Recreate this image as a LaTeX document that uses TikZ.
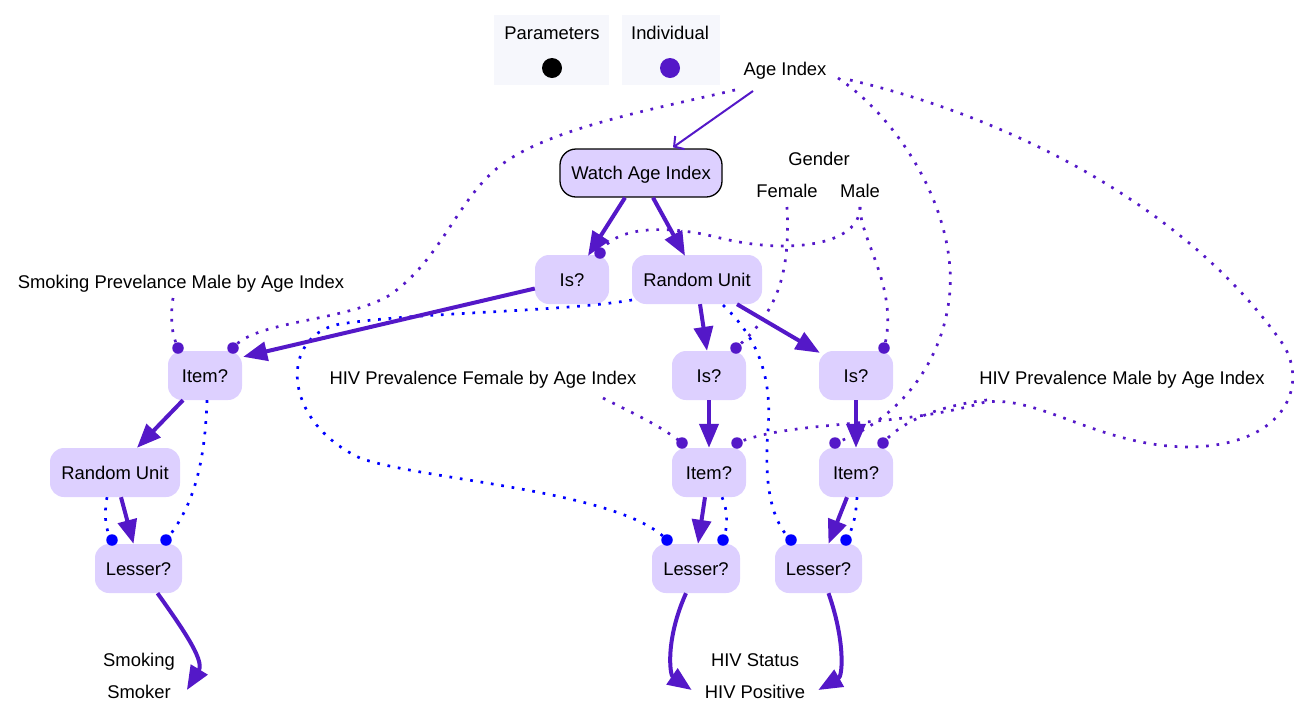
\documentclass[tikz,border=0pt]{standalone}
\usepackage{fontspec}
\setmainfont{Liberation Sans}
\usetikzlibrary{arrows.meta}
\definecolor{pur}{RGB}{84,24,200}
\definecolor{blu}{RGB}{0,0,255}
\definecolor{nodefill}{RGB}{221,208,255}
\definecolor{legfill}{RGB}{246,247,252}
\tikzset{
  lbl/.style={inner sep=0pt, text height=13.2pt, text depth=0pt, font=\fontsize{18.4}{22}\selectfont},
  box/.style={lbl, rounded corners=14pt, fill=nodefill, minimum height=49pt},
  legbox/.style={fill=legfill, inner sep=0pt, minimum height=70pt},
  arr/.style={draw=pur, line width=4pt, -{Triangle[length=24pt,width=19pt]}},
  thinarr/.style={draw=pur, line width=2pt, -{Straight Barb[length=7pt,width=16pt]}},
  pdots/.style={draw=pur, line width=2.7pt, dash pattern=on 2.7pt off 7.8pt},
  bdots/.style={draw=blu, line width=2.7pt, dash pattern=on 2.7pt off 7.8pt},
  pport/.style={circle, fill=pur, inner sep=0pt, minimum size=11.5pt},
  bport/.style={circle, fill=blu, inner sep=0pt, minimum size=11.5pt},
}
\begin{document}
\begin{tikzpicture}[x=1pt,y=-1pt]
\useasboundingbox (0,0) rectangle (1304,716);
% legend
\node[legbox, minimum width=115pt] (legP) at (551.5,50) {};
\node[legbox, minimum width=98pt] (legI) at (671,50) {};
\node[lbl] (legPt) at (552,33) {Parameters};
\node[lbl] (legIt) at (670,33) {Individual};
\node[circle, fill=black, inner sep=0pt, minimum size=20pt] (legPd) at (552,68) {};
\node[circle, fill=pur, inner sep=0pt, minimum size=20pt] (legId) at (670,68) {};
% text labels
\node[lbl] (ageidx) at (785,69) {Age Index};
\node[lbl] (gender) at (819,159) {Gender};
\node[lbl] (female) at (787,191) {Female};
\node[lbl] (male) at (860,191) {Male};
\node[lbl] (smokprev) at (181,282) {Smoking Prevelance Male by Age Index};
\node[lbl] (hivf) at (483,378) {HIV Prevalence Female by Age Index};
\node[lbl] (hivm) at (1122,378) {HIV Prevalence Male by Age Index};
\node[lbl] (smoking) at (139,660) {Smoking};
\node[lbl] (smoker) at (139,692) {Smoker};
\node[lbl] (hivstatus) at (755,660) {HIV Status};
\node[lbl] (hivpos) at (755,692) {HIV Positive};
% boxes
\node[box, draw=black, line width=1.3pt, rounded corners=16pt, minimum width=162pt, minimum height=48pt] (watch) at (641,173) {Watch Age Index};
\node[box, minimum width=74pt] (isT) at (572,279.5) {Is?};
\node[box, minimum width=130pt] (randT) at (697,279.5) {Random Unit};
\node[box, minimum width=74pt] (itemL) at (205,375.5) {Item?};
\node[box, minimum width=74pt] (isM) at (709,375.5) {Is?};
\node[box, minimum width=74pt] (isR) at (856,375.5) {Is?};
\node[box, minimum width=130pt] (randL) at (115,472.5) {Random Unit};
\node[box, minimum width=74pt] (itemM) at (709,472.5) {Item?};
\node[box, minimum width=74pt] (itemR) at (856,472.5) {Item?};
\node[box, minimum width=87pt] (lesserL) at (138.5,568.5) {Lesser?};
\node[box, minimum width=88pt] (lesserM) at (696,568.5) {Lesser?};
\node[box, minimum width=87pt] (lesserR) at (818.5,568.5) {Lesser?};
% ports
\node[pport] (itemLa) at (178,348) {};
\node[pport] (itemLb) at (233,348) {};
\node[pport] (isTa) at (600,253) {};
\node[pport] (isMa) at (736,348) {};
\node[pport] (isRa) at (884,348) {};
\node[pport] (itemMa) at (682,443) {};
\node[pport] (itemMb) at (737,443) {};
\node[pport] (itemRa) at (835,443) {};
\node[pport] (itemRb) at (883,443) {};
\node[bport] (lesserLa) at (112,540) {};
\node[bport] (lesserLb) at (166,540) {};
\node[bport] (lesserMa) at (667,540) {};
\node[bport] (lesserMb) at (723,540) {};
\node[bport] (lesserRa) at (791,540) {};
\node[bport] (lesserRb) at (846,540) {};
% free ends near text labels
\coordinate (ai0) at (753,91);
\coordinate (ai1) at (735,90);
\coordinate (ai2) at (838,78);
\coordinate (ai3) at (850,80);
\coordinate (fem0) at (787,207);
\coordinate (male0) at (860,207);
\coordinate (sp0) at (173,298);
\coordinate (hf0) at (603,398);
\coordinate (hm0) at (987,400);
\coordinate (rt0) at (632,300);
\coordinate (rt1) at (723,305);
% dotted purple
\draw[pdots] (ai1) .. controls (650,110) and (540,130) .. (495,170)
  .. controls (455,205) and (440,260) .. (390,295)
  .. controls (345,322) and (255,320) .. (itemLb.center);
\draw[pdots] (ai2) .. controls (900,120) and (955,210) .. (950,290)
  .. controls (945,360) and (900,420) .. (itemRa.center);
\draw[pdots] (ai3) .. controls (1000,115) and (1180,200) .. (1280,340)
  .. controls (1310,380) and (1290,445) .. (1190,447)
  .. controls (1100,447) and (1040,395) .. (985,402)
  .. controls (900,428) and (790,420) .. (itemMb.center);
\draw[pdots] (hm0) .. controls (945,405) and (905,418) .. (itemRb.center);
\draw[pdots] (male0) .. controls (860,240) and (900,290) .. (isRa.center);
\draw[pdots] (male0) .. controls (860,245) and (790,255) .. (720,238)
  .. controls (670,225) and (615,225) .. (isTa.center);
\draw[pdots] (fem0) .. controls (790,270) and (780,310) .. (isMa.center);
\draw[pdots] (sp0) .. controls (170,320) and (172,335) .. (itemLa.center);
\draw[pdots] (hf0) .. controls (630,412) and (660,425) .. (itemMa.center);
% dotted blue
\draw[bdots] (itemL.south) ++(2,0) .. controls (205,460) and (195,505) .. (lesserLb.center);
\draw[bdots] ([xshift=-8pt]randL.south) .. controls (104,515) and (105,530) .. (lesserLa.center);
\draw[bdots] (rt0) .. controls (560,312) and (420,312) .. (340,324)
  .. controls (280,335) and (280,420) .. (360,458)
  .. controls (420,480) and (620,490) .. (lesserMa.center);
\draw[bdots] (rt1) .. controls (760,340) and (772,380) .. (768,430)
  .. controls (764,480) and (770,520) .. (lesserRa.center);
\draw[bdots] ([xshift=13pt]itemM.south) .. controls (728,510) and (728,528) .. (lesserMb.center);
\draw[bdots] ([xshift=1pt]itemR.south) .. controls (856,515) and (853,530) .. (lesserRb.center);
% solid arrows
\draw[thinarr] (ai0) -- ([xshift=32pt,yshift=1pt]watch.north);
\draw[arr] ([xshift=-16pt]watch.south) -- ([xshift=16pt,yshift=-1pt]isT.north);
\draw[arr] ([xshift=12pt]watch.south) -- ([xshift=-12pt,yshift=-1pt]randT.north);
\draw[arr] ([yshift=-9pt]isT.west) -- ([xshift=1pt,yshift=-6pt]itemL.north east);
\draw[arr] ([xshift=3pt]randT.south) -- ([xshift=-2pt]isM.north);
\draw[arr] ([xshift=40pt]randT.south) -- ([xshift=1pt,yshift=-2pt]isR.north west);
\draw[arr] (isM.south) -- (itemM.north);
\draw[arr] (isR.south) -- (itemR.north);
\draw[arr] ([xshift=-22pt]itemL.south) -- ([xshift=22pt]randL.north);
\draw[arr] ([xshift=6pt]randL.south) -- ([xshift=-5pt]lesserL.north);
\draw[arr] ([xshift=-4pt]itemM.south) -- ([xshift=2pt]lesserM.north);
\draw[arr] ([xshift=-9pt]itemR.south) -- ([xshift=10pt]lesserR.north);
\draw[arr] ([xshift=19pt]lesserL.south) .. controls (180,625) and (205,660) .. ([xshift=16pt,yshift=2pt]smoker.east);
\draw[arr] ([xshift=-10pt]lesserM.south) .. controls (665,640) and (670,675) .. ([xshift=-13pt,yshift=2pt]hivpos.west);
\draw[arr] ([xshift=10pt]lesserR.south) .. controls (845,640) and (843,676) .. ([xshift=13pt,yshift=2pt]hivpos.east);
\end{tikzpicture}
\end{document}
